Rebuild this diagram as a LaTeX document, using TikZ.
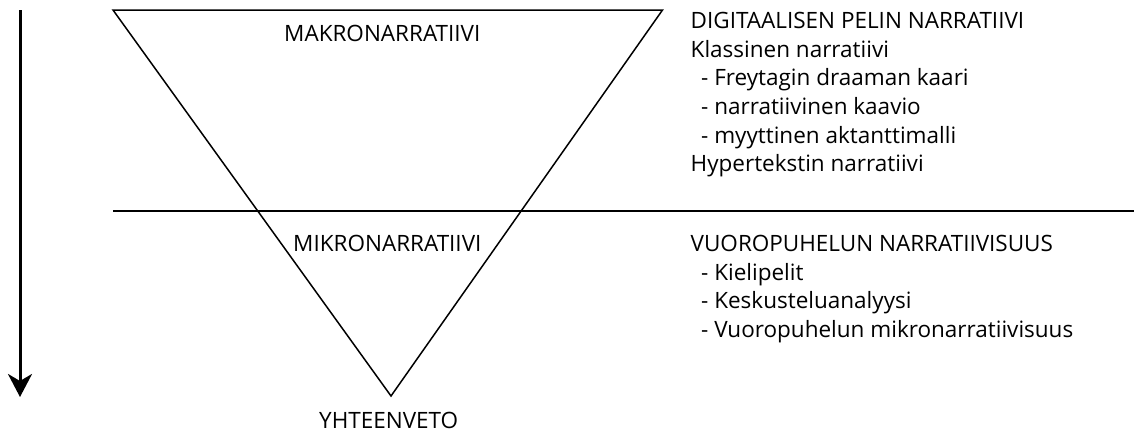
\documentclass[tikz,border=0pt]{standalone}
\usepackage{fontspec}
\setmainfont{Open Sans}
\usetikzlibrary{arrows.meta}
\newcommand{\listdash}{\hspace{10.5pt}- }
\begin{document}
\begin{tikzpicture}[x=1pt,y=-1pt,
  label text/.style={inner sep=0pt,anchor=base west,font=\fontsize{22.5}{28.7}\selectfont},
  thin line/.style={line width=1.5pt},
  time arrow/.style={line width=3pt,-{Stealth[length=23pt,width=24pt,inset=7pt]}}]
\useasboundingbox (0,0) rectangle (1134,434);
% inverted triangle and the dividing line
\coordinate (tl) at (113,10);
\coordinate (tr) at (662.5,10);
\coordinate (apex) at (391,396);
\coordinate (hl) at (113,211);
\coordinate (hr) at (1134,211);
\draw[thin line,line join=miter] (tl) -- (tr) -- (apex) -- cycle;
\draw[line width=1.8pt] (hl) -- (hr);
% downward arrow on the left
\coordinate (atop) at (20,10);
\coordinate (abot) at (20,397);
\draw[time arrow] (atop) -- (abot);
% labels inside the triangle
\node[label text] (makro) at (284,41) {MAKRONARRATIIVI};
\node[label text] (mikro) at (293,251) {MIKRONARRATIIVI};
\node[label text] (yht) at (319,428) {YHTEENVETO};
% upper list
\node[label text] (u1) at (690.5,28.5) {DIGITAALISEN PELIN NARRATIIVI};
\node[label text] (u2) at (690.5,57) {Klassinen narratiivi};
\node[label text] (u3) at (690.5,85.7) {\listdash Freytagin draaman kaari};
\node[label text] (u4) at (690.5,114.4) {\listdash narratiivinen kaavio};
\node[label text] (u5) at (690.5,143.1) {\listdash myyttinen aktanttimalli};
\node[label text] (u6) at (690.5,171.8) {Hypertekstin narratiivi};
% lower list
\node[label text] (l1) at (690.5,251.5) {VUOROPUHELUN NARRATIIVISUUS};
\node[label text] (l2) at (690.5,280.2) {\listdash Kielipelit};
\node[label text] (l3) at (690.5,308.9) {\listdash Keskusteluanalyysi};
\node[label text] (l4) at (690.5,337.6) {\listdash Vuoropuhelun mikronarratiivisuus};
\end{tikzpicture}
\end{document}
